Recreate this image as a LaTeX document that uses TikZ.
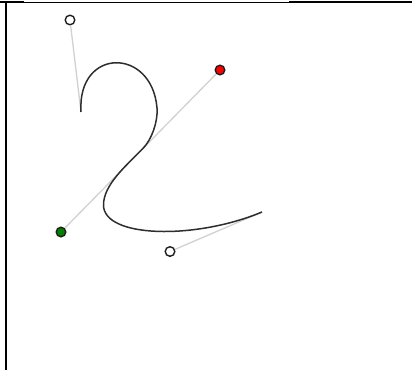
\documentclass[tikz,border=0pt]{standalone}
\begin{document}
\begin{tikzpicture}[x=1pt,y=-1pt,
  frame/.style={line width=2pt,black},
  thinframe/.style={line width=1pt,black},
  handle/.style={line width=1.3pt,black!18},
  curve/.style={line width=1.5pt,black!82},
  knob/.style={circle,draw=black!88,line width=1.4pt,minimum size=9.6pt,inner sep=0pt,fill=#1},
  knob/.default=white]
\useasboundingbox (0,0) rectangle (412,370);
% frame
\coordinate (tl) at (0,2);
\coordinate (ta) at (24,2);
\coordinate (tb) at (289,2);
\coordinate (tr) at (412,2);
\coordinate (lt) at (6,1);
\coordinate (lb) at (6,370);
\draw[frame] (tl) -- (ta);
\draw[thinframe] (ta) -- (tb);
\draw[frame] (tb) -- (tr);
\draw[frame] (lt) -- (lb);
% anchor points of the curve
\coordinate (s) at (81,112);
\coordinate (m) at (143,148.4);
\coordinate (e) at (262,212);
% control knobs
\node[knob] (c1) at (70,20) {};
\node[knob=red] (c2) at (220,70) {};
\node[knob=green!50!black] (c3) at (61,232) {};
\node[knob] (c4) at (170,251.5) {};
% handles
\draw[handle] (s) -- (c1);
\draw[handle] (c2) -- (c3);
\draw[handle] (c4) -- (e);
% curve
\draw[curve] (s) .. controls (77,47) and (152,47) .. (157,108)
                 .. controls (158.1,122) and (151.4,139.9) .. (m)
                 .. controls (125.5,166.2) and (103.5,185) .. (103.5,205)
                 .. controls (103.5,238) and (195,240) .. (e);
\end{tikzpicture}
\end{document}
